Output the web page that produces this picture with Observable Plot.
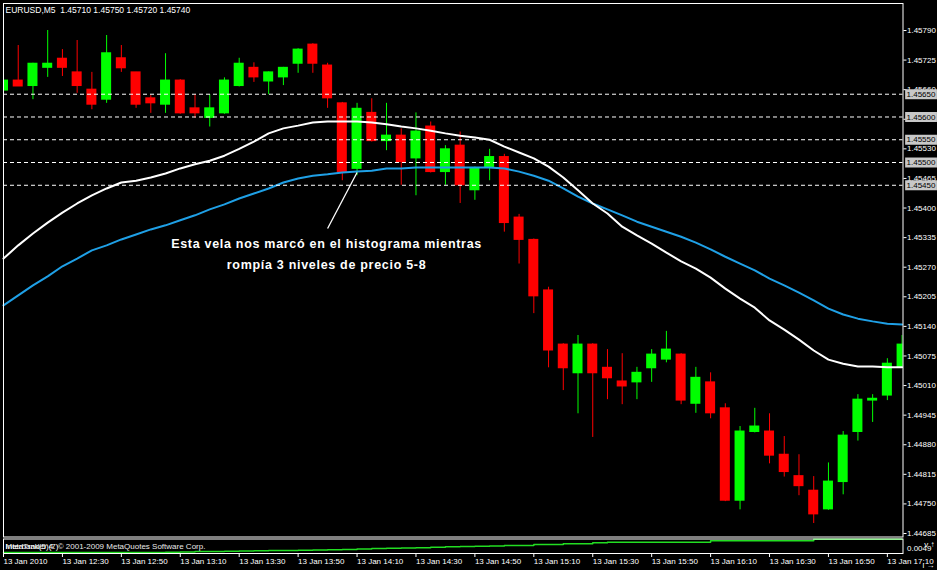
<!DOCTYPE html>
<html>
<head>
<meta charset="utf-8">
<script src="https://cdn.jsdelivr.net/npm/d3@7"></script>
<script src="https://cdn.jsdelivr.net/npm/@observablehq/plot@0.6"></script>
<style>
  html, body { margin: 0; padding: 0; background: #000; }
  #chart { position: relative; width: 937px; height: 570px; background: #000; overflow: hidden; }
  #chart svg { position: absolute; left: 0; display: block; }
</style>
</head>
<body>
<div id="chart"></div>
<script>
// EURUSD M5, 13 Jan 2010, bars from 12:10 to 17:15
const symbolHeader = "EURUSD,M5  1.45710 1.45750 1.45720 1.45740";

const open = [1.45658,1.45680,1.45668,1.45708,1.45728,1.45698,1.45660,1.45638,1.45729,1.45698,
  1.45641,1.45627,1.45680,1.45619,1.45598,1.45608,1.45668,1.45708,1.45678,1.45687,
  1.45717,1.45759,1.45713,1.45630,1.45486,1.45609,1.45547,1.45559,1.45509,1.45579,
  1.45479,1.45537,1.45439,1.45488,1.45512,1.45379,1.45330,1.45219,1.45100,1.45037,
  1.45100,1.45049,1.45019,1.45017,1.45048,1.45067,1.45078,1.44970,1.45017,1.44960,
  1.44757,1.44908,1.44909,1.44858,1.44811,1.44779,1.44738,1.44798,1.44908,1.44977,
  1.44988,1.45050];
const high = [1.45698,1.45757,1.45718,1.45790,1.45748,1.45768,1.45698,1.45779,1.45757,1.45698,
  1.45647,1.45739,1.45682,1.45649,1.45649,1.45686,1.45729,1.45719,1.45699,1.45709,
  1.45750,1.45761,1.45718,1.45632,1.45630,1.45640,1.45630,1.45574,1.45609,1.45589,
  1.45537,1.45567,1.45490,1.45529,1.45518,1.45386,1.45332,1.45226,1.45102,1.45120,
  1.45102,1.45089,1.45080,1.45050,1.45089,1.45129,1.45080,1.45050,1.45038,1.44970,
  1.44920,1.44960,1.44948,1.44898,1.44858,1.44810,1.44840,1.44909,1.44990,1.44990,
  1.45069,1.45120];
const low = [1.45641,1.45667,1.45638,1.45687,1.45689,1.45652,1.45616,1.45630,1.45698,1.45619,
  1.45608,1.45608,1.45606,1.45597,1.45578,1.45606,1.45666,1.45676,1.45649,1.45669,
  1.45696,1.45696,1.45619,1.45460,1.45471,1.45545,1.45526,1.45450,1.45427,1.45477,
  1.45450,1.45410,1.45417,1.45460,1.45347,1.45277,1.45168,1.45049,1.44999,1.44948,
  1.44896,1.44979,1.44968,1.44979,1.45017,1.45060,1.44968,1.44949,1.44937,1.44755,
  1.44737,1.44906,1.44838,1.44809,1.44768,1.44707,1.44736,1.44770,1.44888,1.44929,
  1.44977,1.45048];
const close = [1.45680,1.45667,1.45717,1.45717,1.45708,1.45668,1.45627,1.45740,1.45707,1.45627,
  1.45630,1.45680,1.45608,1.45608,1.45619,1.45680,1.45717,1.45687,1.45698,1.45708,
  1.45748,1.45717,1.45641,1.45479,1.45618,1.45547,1.45559,1.45501,1.45568,1.45479,
  1.45529,1.45450,1.45488,1.45512,1.45367,1.45330,1.45206,1.45087,1.45048,1.45100,
  1.45037,1.45026,1.45008,1.45038,1.45078,1.45089,1.44977,1.45027,1.44949,1.44757,
  1.44909,1.44920,1.44856,1.44820,1.44789,1.44727,1.44799,1.44900,1.44979,1.44981,
  1.45058,1.45100];

// fast (white) and slow (blue) moving averages
const maFast = [1.45289,1.45318,1.45344,1.45368,1.45390,1.45410,1.45428,1.45443,1.45456,1.45460,
  1.45467,1.45476,1.45487,1.45496,1.45504,1.45515,1.45530,1.45546,1.45564,1.45575,
  1.45581,1.45588,1.45590,1.45590,1.45590,1.45588,1.45584,1.45579,1.45575,1.45570,
  1.45564,1.45559,1.45555,1.45550,1.45535,1.45522,1.45509,1.45491,1.45467,1.45439,
  1.45410,1.45388,1.45359,1.45340,1.45322,1.45302,1.45283,1.45267,1.45247,1.45223,
  1.45201,1.45181,1.45153,1.45133,1.45111,1.45087,1.45067,1.45058,1.45052,1.45052,
  1.45050,1.45050];
const maSlow = [1.45186,1.45208,1.45230,1.45250,1.45272,1.45289,1.45307,1.45318,1.45331,1.45342,
  1.45353,1.45362,1.45373,1.45384,1.45397,1.45408,1.45421,1.45432,1.45443,1.45456,
  1.45465,1.45471,1.45474,1.45478,1.45480,1.45482,1.45487,1.45487,1.45489,1.45489,
  1.45489,1.45489,1.45489,1.45489,1.45487,1.45480,1.45471,1.45460,1.45443,1.45425,
  1.45410,1.45397,1.45384,1.45370,1.45359,1.45348,1.45337,1.45324,1.45309,1.45293,
  1.45278,1.45263,1.45245,1.45230,1.45214,1.45197,1.45179,1.45166,1.45157,1.45151,
  1.45146,1.45144];

// Interbank(5)(7) histogram-window line
const interbank = [0.00468,0.00468,0.00468,0.00468,0.00468,0.00468,0.00468,0.00468,0.00468,0.00468,
  0.00468,0.00469,0.00470,0.00472,0.00473,0.00474,0.00475,0.00476,0.00478,0.00478,
  0.00479,0.00480,0.00481,0.00483,0.00485,0.00487,0.00489,0.00490,0.00491,0.00494,
  0.00496,0.00498,0.00499,0.00500,0.00503,0.00503,0.00508,0.00508,0.00511,0.00511,
  0.00516,0.00519,0.00519,0.00519,0.00519,0.00519,0.00519,0.00519,0.00526,0.00526,
  0.00526,0.00526,0.00526,0.00526,0.00526,0.00534,0.00534,0.00534,0.00534,0.00534,
  0.00534,0.00534];

// horizontal price levels
const levels = [1.45650, 1.45600, 1.45550, 1.45500, 1.45450];

// price scale labels
const priceTicks = [1.45790,1.45725,1.45660,1.45595,1.45530,1.45465,1.45400,1.45335,1.45270,
  1.45205,1.45140,1.45075,1.45010,1.44945,1.44880,1.44815,1.44750,1.44685];

// time scale labels (every 4th bar)
const timeTickBars = [0,4,8,12,16,20,24,28,32,36,40,44,48,52,56,60];
const timeTickLabels = ["13 Jan 2010","13 Jan 12:30","13 Jan 12:50","13 Jan 13:10","13 Jan 13:30",
  "13 Jan 13:50","13 Jan 14:10","13 Jan 14:30","13 Jan 14:50","13 Jan 15:10","13 Jan 15:30",
  "13 Jan 15:50","13 Jan 16:10","13 Jan 16:30","13 Jan 16:50","13 Jan 17:10"];

const indicatorTicks = [0.0049];

const noteLines = ["Esta vela nos marcó en el histograma mientras", "rompía 3 niveles de precio 5-8"];
const noteLinePrices = [1.45322, 1.45274];
const noteBar = 21.93;
// pointer from the note up to the candle's low
const pointer = [{x1: 22.0, y1: 1.45355, x2: 24.0, y2: 1.45478}];

const bull = "#00ff00", bear = "#ff0000";
const font = "'Liberation Sans', Arial, sans-serif";

const candles = open.map((o, i) => ({
  i, o, h: high[i], l: low[i], c: close[i],
  color: close[i] >= o ? bull : bear,
  top: Math.max(o, close[i]), bottom: Math.min(o, close[i])
}));
const fastPts = maFast.map((v, i) => ({i, v}));
const slowPts = maSlow.map((v, i) => ({i, v}));
const indPts = interbank.map((v, i) => ({i, v}));

const xScale = {domain: [0, 61], range: [3, 901.6]};

const main = Plot.plot({
  width: 937,
  height: 538,
  marginTop: 3,
  marginLeft: 3,
  marginRight: 34.5,
  marginBottom: 1.5,
  style: {background: "transparent", color: "#fff", fontFamily: font, fontSize: "8px"},
  x: {...xScale, axis: null},
  y: {domain: [1.44685, 1.45790], range: [533, 30], axis: null},
  marks: [
    // wicks and bodies
    Plot.ruleX(candles, {x: "i", y1: "l", y2: "h", stroke: "color", strokeWidth: 1, clip: true}),
    Plot.rect(candles, {x1: d => d.i - 0.34, x2: d => d.i + 0.34, y1: "bottom", y2: "top",
      fill: "color", insetTop: -0.5, insetBottom: -0.5, clip: true}),
    // moving averages
    Plot.line(slowPts, {x: "i", y: "v", stroke: "#1fa0e6", strokeWidth: 2}),
    Plot.line(fastPts, {x: "i", y: "v", stroke: "#ffffff", strokeWidth: 2}),
    // price levels
    Plot.ruleY(levels, {stroke: "#fff", strokeWidth: 1, strokeDasharray: "4,3"}),
    // price scale
    Plot.axisY(priceTicks, {anchor: "right", tickSize: 3, tickPadding: 1,
      tickFormat: d => d.toFixed(5), stroke: "#fff", fill: "#fff", fontSize: 8}),
    Plot.ruleY(levels, {x1: 61.24, x2: 63.4, stroke: "#c8c8c8", strokeWidth: 10}),
    Plot.text(levels, {x: 61.3, y: d => d, text: d => d.toFixed(5), textAnchor: "start",
      fill: "#000", fontSize: 8}),
    // note
    Plot.link(pointer, {x1: "x1", y1: "y1", x2: "x2", y2: "y2", stroke: "#fff", strokeWidth: 1.3}),
    Plot.text(noteLines, {x: noteBar, y: (d, i) => noteLinePrices[i], text: d => d,
      fill: "#fff", fontWeight: "bold", fontSize: 12.5, textAnchor: "middle"}),
    // header
    Plot.text([symbolHeader], {frameAnchor: "top-left", dx: 2, dy: 3, fill: "#fff",
      textAnchor: "start", lineAnchor: "top", fontSize: 8.5}),
    Plot.frame({stroke: "#fff", strokeWidth: 1})
  ]
});
main.style.top = "0px";

// MetaTrader draws the note text with a wider letter pitch
d3.select(main).selectAll("text")
  .filter(function() { return noteLines.includes(this.textContent); })
  .attr("letter-spacing", "0.7px");

const lower = Plot.plot({
  width: 937,
  height: 32,
  marginTop: 0.5,
  marginLeft: 3,
  marginRight: 34.5,
  marginBottom: 17,
  style: {background: "transparent", color: "#fff", fontFamily: font, fontSize: "8px"},
  x: {...xScale, axis: null},
  y: {domain: [0.00468, 0.00534], range: [13.9, 0.7], axis: null},
  marks: [
    Plot.line(indPts, {x: "i", y: "v", stroke: "#22dd22", strokeWidth: 1.5, curve: "step-after"}),
    Plot.text(["MetaTrader 4. © 2001-2009 MetaQuotes Software Corp."], {frameAnchor: "left",
      dx: 2, fill: "#e8e8e8", textAnchor: "start", fontSize: 8}),
    Plot.text(["Interbank(5)(7)"], {frameAnchor: "left", dx: 2, fill: "#fff",
      textAnchor: "start", fontSize: 8}),
    Plot.axisY(indicatorTicks, {anchor: "right", tickSize: 0, tickPadding: 4,
      tickFormat: d => d.toFixed(4), fill: "#fff", fontSize: 8}),
    Plot.axisX(timeTickBars, {anchor: "bottom", tickSize: 4, tickPadding: 1,
      tickFormat: (d) => timeTickLabels[timeTickBars.indexOf(d)],
      textAnchor: "start", dx: 0, stroke: "#fff", fill: "#fff", fontSize: 8}),
    Plot.frame({stroke: "#fff", strokeWidth: 1})
  ]
});
lower.style.top = "538px";

const chart = document.getElementById("chart");
chart.append(main, lower);
</script>
</body>
</html>
